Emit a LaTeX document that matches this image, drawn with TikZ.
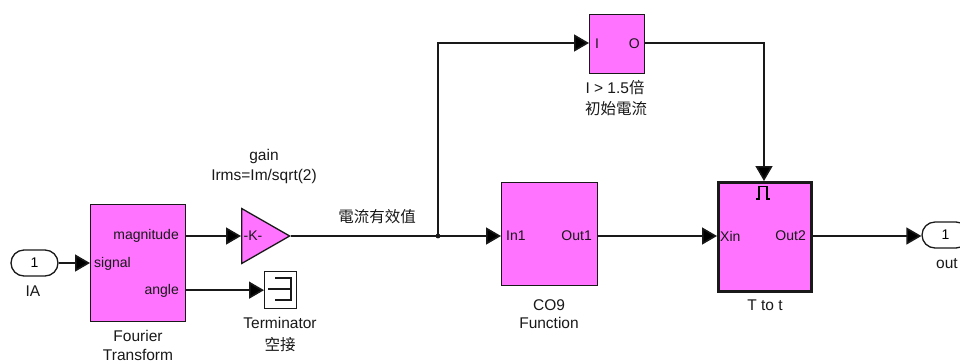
\documentclass[tikz,border=0pt]{standalone}
\usepackage{fontspec}
\setmainfont{Liberation Sans}
\newfontfamily\cjk{Noto Sans CJK TC}
\usetikzlibrary{arrows.meta,shapes.geometric,shapes.misc}
\definecolor{blockpink}{RGB}{255,115,255}
\definecolor{ink}{RGB}{25,25,25}
\tikzset{
  x=1pt,y=-1pt,
  blockbox/.style={draw=ink,fill=blockpink,line width=1.3pt,inner sep=0pt,anchor=north west},
  portbox/.style={draw=ink,fill=white,line width=1.3pt,rounded rectangle,inner sep=0pt,minimum width=47pt,minimum height=26pt,font=\fontsize{14}{14}\selectfont},
  lbl/.style={inner sep=0pt,text=ink,align=center,font=\fontsize{14}{16}\selectfont},
  captext/.style={inner sep=0pt,text=ink,align=center,font=\fontsize{15.5}{19.5}\selectfont},
  wire/.style={draw=ink,line width=1.6pt,-{Triangle[length=15pt,width=17pt,fill=black]}},
  plainwire/.style={draw=ink,line width=1.6pt},
}
\begin{document}
\begin{tikzpicture}
\useasboundingbox (0,0) rectangle (960,360);
\clip (0,0) rectangle (960,360);
\fill[white] (0,0) rectangle (960,360);
% blocks
\node[blockbox,minimum width=95pt,minimum height=117pt] (ft) at (90,204) {};
\node[blockbox,minimum width=96pt,minimum height=103pt] (co) at (501,182) {};
\node[blockbox,minimum width=55pt,minimum height=59pt] (iblk) at (589,14) {};
\node[blockbox,line width=3pt,minimum width=93pt,minimum height=109pt] (tt) at (717,181) {};
\node[draw=ink,fill=white,line width=1.3pt,minimum width=32pt,minimum height=37pt,inner sep=0pt,anchor=north west] (term) at (264,271) {};
\node[isosceles triangle,isosceles triangle stretches,draw=ink,fill=blockpink,line width=1.3pt,minimum width=55pt,minimum height=48pt,inner sep=0pt,shape border rotate=0,anchor=lower side] (gain) at (241,236) {};
\node[portbox] (ia) at (34.5,263) {1};
\node[portbox] (outp) at (945.5,235) {1};
\coordinate (jn) at (438,236);
\coordinate (corner) at (438,43);
\coordinate (bend) at (764,43);
% port labels
\node[lbl,anchor=east] (l1) at (179,236) {magnitude};
\node[lbl,anchor=west] (l2) at (94,264) {signal};
\node[lbl,anchor=east] (l3) at (179,291) {angle};
\node[lbl] (l4) at (253,236) {-K-};
\node[lbl,anchor=west] (l5) at (506,236) {In1};
\node[lbl,anchor=east] (l6) at (592,236) {Out1};
\node[lbl,anchor=west] (l7) at (595,44) {I};
\node[lbl,anchor=east] (l8) at (640,44) {O};
\node[lbl,anchor=west] (l9) at (720,236) {Xin};
\node[lbl,anchor=east] (l10) at (806,236) {Out2};
% captions
\node[captext] (c1) at (33,291) {IA};
\node[captext] (c2) at (138,336) {Fourier};
\node[captext] (c2b) at (138,355) {Transform};
\node[captext] (c3) at (264,156) {gain};
\node[captext] (c3b) at (264,176) {Irms=Im/sqrt(2)};
\node[captext] (c4) at (280,323) {Terminator};
\node[captext] (c4b) at (280,345) {\cjk 空接};
\node[captext] (c5) at (377,217) {\cjk 電流有效值};
\node[captext] (c6) at (615,88) {I > 1.5{\cjk 倍}};
\node[captext] (c6b) at (616,109) {\cjk 初始電流};
\node[captext] (c7) at (549,305) {CO9};
\node[captext] (c7b) at (549,323) {Function};
\node[captext] (c8) at (765,305) {T to t};
\node[captext] (c9) at (947,264) {out};
% wires
\draw[wire] (ia.east) -- (ft.west |- ia.east);
\draw[wire] (ft.east |- gain.apex) -- (gain.lower side |- gain.apex);
\draw[wire] (ft.east |- term.west) -- (term.west);
\draw[plainwire] (gain.apex) -- (jn);
\draw[wire] (jn) -- (co.west |- jn);
\draw[wire] (jn) -- (corner) -- (iblk.west |- corner);
\fill[ink] (jn) circle (2.4pt);
\draw[wire] (co.east |- jn) -- (tt.west |- jn);
\draw[wire] (iblk.east |- corner) -- (bend) -- (bend |- tt.north);
\draw[wire] (tt.east |- jn) -- (outp.west |- jn);
% terminator glyph
\draw[ink,line width=1.3pt] (275,278) -- (291,278) -- (291,300) -- (275,300) (268,289) -- (291,289);
% pulse glyph
\draw[black,line width=1.3pt] (756,199) -- (759,199) -- (759,186.5) -- (767,186.5) -- (767,199) -- (770,199);
\end{tikzpicture}
\end{document}
